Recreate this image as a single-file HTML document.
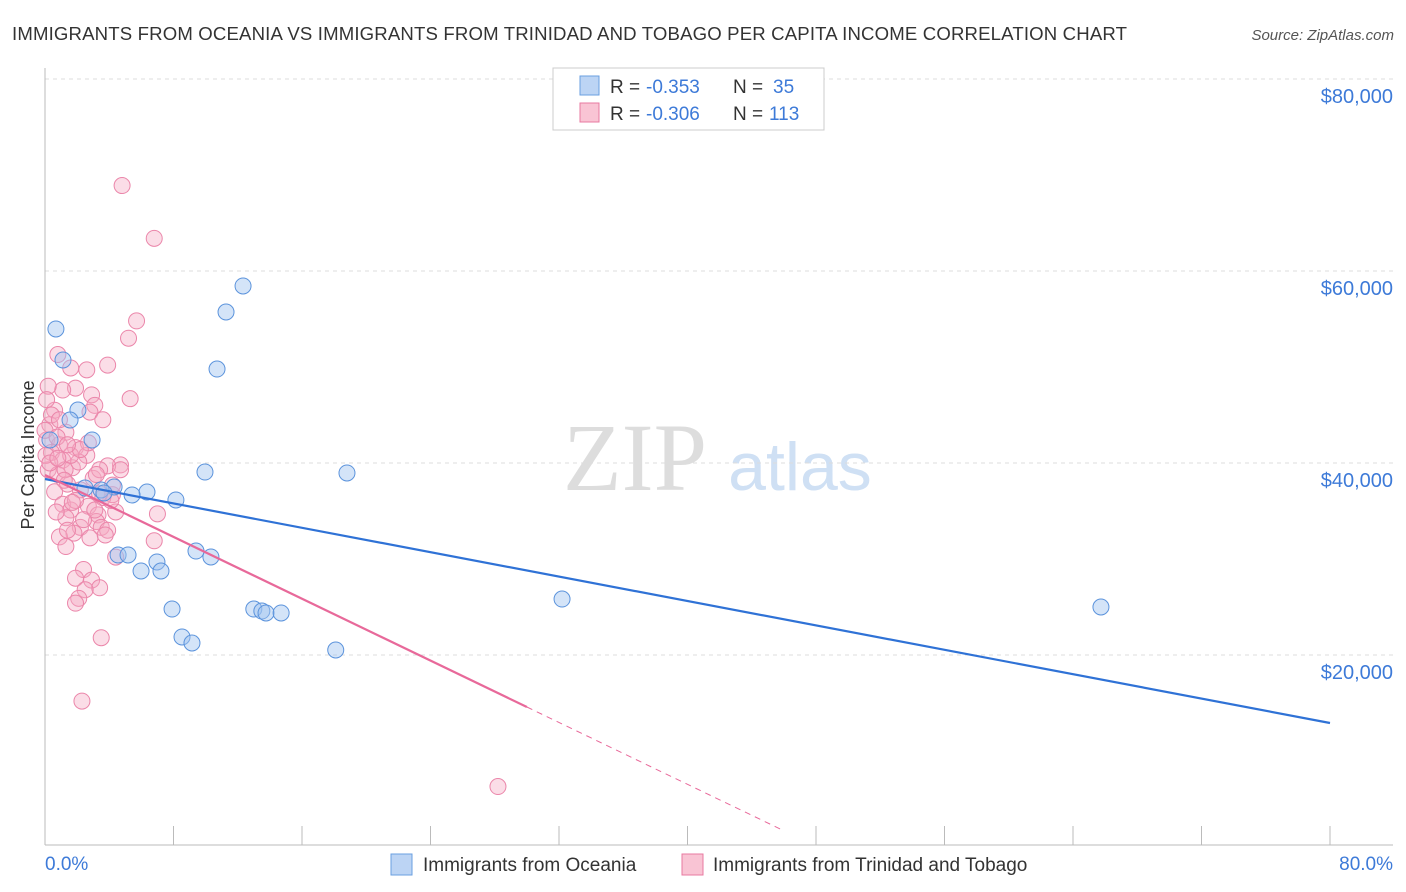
<!DOCTYPE html>
<html><head><meta charset="utf-8"><style>
body{margin:0;background:#fff;font-family:"Liberation Sans",sans-serif;}
svg{display:block}
</style></head><body>
<svg id="chart" width="1406" height="892" xmlns="http://www.w3.org/2000/svg" font-family="Liberation Sans, sans-serif">
<text x="12" y="40" font-size="18.6" fill="#333" textLength="1115">IMMIGRANTS FROM OCEANIA VS IMMIGRANTS FROM TRINIDAD AND TOBAGO PER CAPITA INCOME CORRELATION CHART</text>
<text x="1394" y="40" font-size="15" fill="#555" text-anchor="end" font-style="italic">Source: ZipAtlas.com</text>
<g>
<text x="635" y="490" font-size="96" fill="#ddd" text-anchor="middle" font-family="Liberation Serif, serif">ZIP</text>
<text x="800" y="490" font-size="68" fill="#cfe0f4" text-anchor="middle">atlas</text>
</g>
<g id="grid"></g>
<g id="axes"></g>
<g id="marks"></g>
<text transform="translate(34,455) rotate(-90)" font-size="18" fill="#333" text-anchor="middle">Per Capita Income</text>
<g>
<rect x="553" y="68" width="271" height="62" fill="#fff" stroke="#ccc"/>
<rect x="580" y="76" width="19" height="19" fill="#bcd4f4" stroke="#6a9fe0"/>
<rect x="580" y="103" width="19" height="19" fill="#f9c4d4" stroke="#e87aa0"/>
<text x="610" y="93" font-size="19" fill="#333">R =</text>
<text x="646" y="93" font-size="19" fill="#3d7ad8">-0.353</text>
<text x="733" y="93" font-size="19" fill="#333">N =</text>
<text x="773" y="93" font-size="19" fill="#3d7ad8">35</text>
<text x="610" y="120" font-size="19" fill="#333">R =</text>
<text x="646" y="120" font-size="19" fill="#3d7ad8">-0.306</text>
<text x="733" y="120" font-size="19" fill="#333">N =</text>
<text x="769" y="120" font-size="19" fill="#3d7ad8">113</text>
</g>
<g>
<rect x="391" y="854" width="21" height="21" fill="#bcd4f4" stroke="#6a9fe0"/>
<text x="423" y="871" font-size="19" fill="#333">Immigrants from Oceania</text>
<rect x="682" y="854" width="21" height="21" fill="#f9c4d4" stroke="#e87aa0"/>
<text x="713" y="871" font-size="19" fill="#333">Immigrants from Trinidad and Tobago</text>
</g>
</svg>
<script>
const yTicks=[20000,40000,60000,80000];
const yTickLabels=["$20,000","$40,000","$60,000","$80,000"];
const xTickLabels=["0.0%","80.0%"];
const blueX=[0.68,1.12,2.05,1.56,2.93,12.33,11.27,10.71,9.96,18.8,4.3,3.49,6.35,5.42,8.15,4.55,5.17,9.4,10.33,6.97,5.98,7.22,7.91,13.0,13.5,13.76,14.7,8.53,9.15,18.1,32.19,65.74,0.31,2.49,3.67];
const blueY=[53960,50730,45520,44480,42400,58440,55730,49790,39060,38960,37500,37190,36980,36670,36150,30420,30420,30830,30210,29690,28750,28750,24790,24790,24580,24380,24380,21880,21250,20520,25830,25000,42400,37400,36880];
const pinkX=[4.8,6.8,5.7,5.2,3.9,0.8,5.3,2.3,28.2,3.5,2.6,1.6,1.9,2.9,1.1,0.2,3.1,2.8,3.6,0.6,0.3,1.3,0.1,0.9,1.9,0.4,2.6,1.1,4.7,3.9,1.7,0.2,0.8,3.0,1.4,2.2,0.6,4.2,3.6,1.1,2.7,1.6,4.4,3.3,1.3,7.0,3.2,2.2,3.5,3.9,1.8,2.8,0.9,6.8,1.3,4.4,2.4,1.9,2.9,3.4,2.5,2.1,1.9,0.1,0.4,0,1.25,3.4,2.1,2.7,0.75,1.6,4.1,2.4,4.7,1.2,0.06,0.3,0.8,3.1,1.4,3.75,4.2,3.4,1.9,0.9,2.2,1.4,3.2,1.7,0.7];
const pinkY=[68.9,63.4,54.8,53.0,50.2,51.3,46.7,15.2,6.3,21.8,49.7,49.9,47.8,47.1,47.6,48.0,46.0,45.3,44.5,45.5,44.0,43.2,42.4,41.9,41.6,41.1,40.8,40.3,39.8,39.7,39.5,39.3,38.8,38.4,37.8,37.2,37.0,36.7,36.4,35.7,35.5,35.1,34.9,34.6,34.3,34.7,33.9,33.3,33.3,33.0,32.7,32.2,32.3,31.9,31.3,30.2,28.9,28.0,27.8,27.0,26.8,25.9,25.4,46.6,45.0,43.4,39.3,39.3,40.1,42.1,42.7,40.8,36.1,34.1,39.3,38.2,40.8,40.0,40.5,35.1,33.0,32.5,37.7,36.8,36.1,44.5,41.4,41.9,38.8,35.9,34.9];
const blueFit=[38333,12917];
const pinkFit=[38750,14583];
const pinkFitX=30;
const pinkDashEndX=46;
const NS="http://www.w3.org/2000/svg";
const X=v=>45+v*(1285/80);
const Y=v=>847-v*(192/20000);
function mk(tag,attrs,parent){const e=document.createElementNS(NS,tag);for(const k in attrs)e.setAttribute(k,attrs[k]);document.getElementById(parent).appendChild(e);return e;}
yTicks.forEach((t,i)=>{
 const g=mk('line',{x1:45,x2:1393,y1:Y(t),y2:Y(t),stroke:'#ddd','stroke-dasharray':'4,4'},'grid');
 
 
 const l=mk('text',{x:1393,y:Y(t)+24,'font-size':20,fill:'#3d7ad8','text-anchor':'end'},'axes');
 l.textContent=yTickLabels[i];
 
 
});
const ax=mk('line',{x1:45,x2:1393,y1:845,y2:845,stroke:'#bbb'},'axes');


const ay=mk('line',{x1:45,x2:45,y1:68,y2:845,stroke:'#bbb'},'axes');


for(let i=0;i<=10;i++){
 const t=mk('line',{x1:X(i*8),x2:X(i*8),y1:826,y2:845,stroke:'#bbb'},'axes');
 
 
}
[[0,'start',45],[80,'end',1393]].forEach((d,i)=>{
 const l=mk('text',{x:d[2],y:870,'font-size':19,fill:'#3d7ad8','text-anchor':d[1]},'axes');
 l.textContent=xTickLabels[i];
 
 
});
pinkX.forEach((x,i)=>{
 const c=mk('circle',{cx:X(x),cy:Y(pinkY[i]*1000),r:8,fill:'rgba(245,170,196,0.4)',stroke:'#eb86aa','stroke-width':1},'marks');
 
 
});
blueX.forEach((x,i)=>{
 const c=mk('circle',{cx:X(x),cy:Y(blueY[i]),r:8,fill:'rgba(160,196,240,0.45)',stroke:'#5b93dc','stroke-width':1},'marks');
 
 
});
const bl=mk('line',{x1:X(0),y1:Y(blueFit[0]),x2:X(80),y2:Y(blueFit[1]),stroke:'#2f72d6','stroke-width':2.2},'marks');


const pl=mk('line',{x1:X(0),y1:Y(pinkFit[0]),x2:X(pinkFitX),y2:Y(pinkFit[1]),stroke:'#e8699a','stroke-width':2.2},'marks');


const slope=(pinkFit[0]-pinkFit[1])/pinkFitX;
const yEnd=Math.max(0,pinkFit[0]-slope*pinkDashEndX);
const pd=mk('line',{x1:X(pinkFitX),y1:Y(pinkFit[1]),x2:X(pinkDashEndX),y2:Y(yEnd),stroke:'#e8699a','stroke-width':1,'stroke-dasharray':'6,5'},'marks');


</script>
</body></html>
